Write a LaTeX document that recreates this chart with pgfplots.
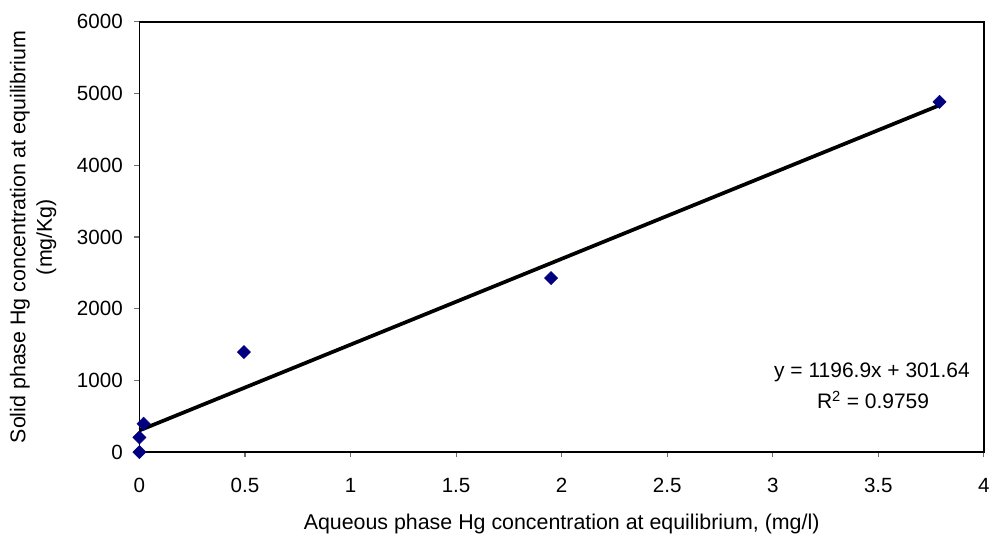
\documentclass[border=0pt]{standalone}
\usepackage{fontspec}
\setmainfont{Liberation Sans}
\usepackage{pgfplots}
\pgfplotsset{compat=1.18}
\definecolor{navy}{RGB}{0,0,128}
\definecolor{tickgrey}{RGB}{110,110,110}

\begin{document}
\begin{tikzpicture}
\begin{axis}[
scale only axis,
width=636pt, height=324pt,
xmin=0, xmax=4, ymin=0, ymax=6000,
xtick={0,0.5,...,4},
ytick={0,1000,...,6000},
xticklabels={0,0.5,1,1.5,2,2.5,3,3.5,4},
yticklabels={0,1000,2000,3000,4000,5000,6000},
tick align=outside,
tick pos=left,
major tick length=4pt,
tick style={tickgrey, line width=0.8pt},
axis line style={black, line width=1.1pt},
tick label style={font=\fontsize{15.5}{17}\selectfont},
xticklabel style={yshift=-12pt},
yticklabel style={xshift=-5pt},
xlabel={Aqueous phase Hg concentration at equilibrium, (mg/l)},
ylabel={Solid phase Hg concentration at equilibrium\\(mg/Kg)},
xlabel style={font=\fontsize{16.1}{20}\selectfont, at={(axis description cs:0.5,0)}, anchor=center, yshift=-54pt},
ylabel style={font=\fontsize{16.1}{20}\selectfont, align=center, at={(axis description cs:0,0.5)}, anchor=center, yshift=80pt},
clip=false,
]
% data points
\addplot[only marks, mark=square*, mark options={rotate=45}, mark size=3.5pt, color=navy] coordinates {
(0,0)
(0,205)
(0.02,395)
(0.495,1395)
(1.95,2427)
(3.79,4885)
};
% linear trendline y = 1196.9x + 301.64
\addplot[black, line width=2.8pt] coordinates {
(0,301.64)
(3.79,4837.79)
};
\node[font=\fontsize{15.8}{17}\selectfont] at (axis cs:3.47,1116) {y = 1196.9x + 301.64};
\node[font=\fontsize{15.8}{17}\selectfont] at (axis cs:3.475,722) {R\textsuperscript{2} = 0.9759};
\end{axis}
\path[use as bounding box] (-105pt,-64pt) rectangle (641pt,340.5pt);
\end{tikzpicture}
\end{document}
